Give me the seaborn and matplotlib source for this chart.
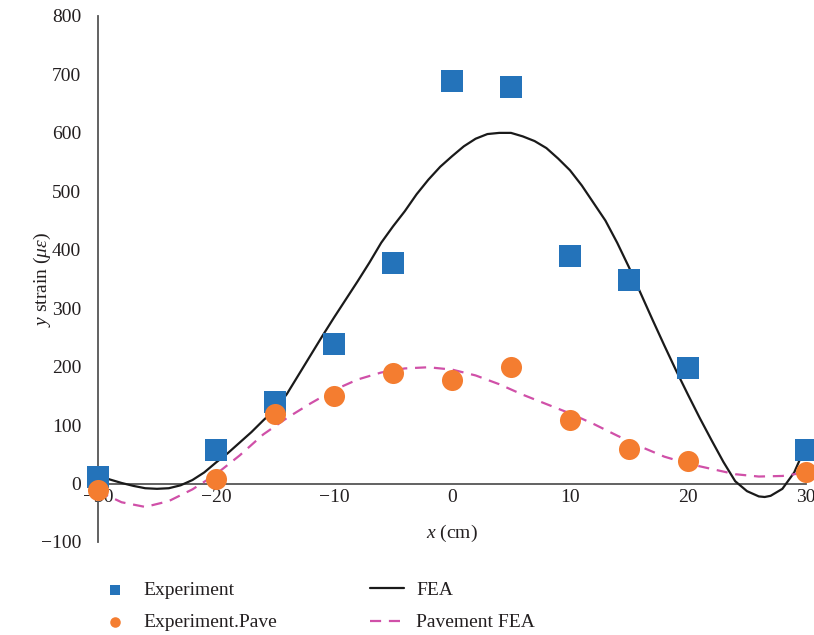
import numpy as np
import pandas as pd
import matplotlib
matplotlib.use("Agg")
import matplotlib.pyplot as plt
import seaborn as sns

# ---- data ----
exp_x = [-30, -20, -15, -10, -5, 0, 5, 10, 15, 20, 30]
exp_y = [11, 58, 139, 238, 378, 688, 679, 389, 348, 198, 58]

pave_x = [-30, -20, -15, -10, -5, 0, 5, 10, 15, 20, 30]
pave_y = [-11, 7, 119, 149, 189, 178, 199, 108, 59, 39, 19]

fea_x = [-30, -29, -28, -27, -26, -25, -24, -23, -22, -21, -20, -19, -18, -17, -16,
         -15, -14, -13, -12, -11, -10, -9, -8, -7, -6, -5, -4, -3, -2, -1, 0,
         1, 2, 3, 4, 5, 6, 7, 8, 9, 10, 11, 12, 13, 14, 15, 16, 17, 18, 19, 20,
         21, 22, 23, 24, 25, 26, 26.5, 27, 28, 29, 30]
fea_y = [14, 7, 1, -4, -8, -9, -8, -3, 6, 19, 36, 52, 70, 88, 108,
         127, 153, 186, 219, 252, 284, 315, 346, 378, 412, 440, 466, 495, 520, 542, 560,
         577, 590, 598, 600, 600, 594, 586, 574, 556, 536, 510, 480, 450, 412, 370, 325, 280,
         236, 193, 152, 112, 74, 37, 4, -13, -22, -23, -21, -9, 19, 65]

pfea_x = [-30, -28, -26, -24, -22, -20, -18, -16, -14, -12, -10, -8, -6, -4, -2, 0,
          2, 4, 6, 8, 10, 12, 14, 16, 18, 20, 22, 24, 26, 28, 30]
pfea_y = [-13, -32, -40, -30, -10, 16, 48, 84, 112, 137, 160, 178, 190, 197, 199, 195,
          185, 170, 152, 136, 120, 102, 82, 63, 46, 34, 25, 16, 12, 13, 19]

x_ticks = [-30, -20, -10, 0, 10, 20, 30]
y_ticks = [-100, 0, 100, 200, 300, 400, 500, 600, 700, 800]

sns.set_style("white")
plt.rcParams["font.family"] = ["Liberation Serif", "DejaVu Serif"]
plt.rcParams["mathtext.fontset"] = "custom"
plt.rcParams["mathtext.rm"] = "Liberation Serif"
plt.rcParams["mathtext.it"] = "Liberation Serif:italic"
plt.rcParams["axes.unicode_minus"] = True

BLUE = "#2473BA"
ORANGE = "#F47D30"
PINK = "#D050A8"
TXT = "#231F20"

fig = plt.figure(figsize=(8.14, 6.35), dpi=100)
ax = fig.add_axes([98 / 814, 1 - 542 / 635, 708 / 814, 526 / 635])

sns.lineplot(x=fea_x, y=fea_y, ax=ax, color="#1a1a1a", lw=1.6, sort=False,
             label="FEA", zorder=3)
sns.lineplot(x=pfea_x, y=pfea_y, ax=ax, color=PINK, lw=1.6, sort=False,
             label="Pavement FEA", zorder=3)
ax.lines[-1].set_dashes([5, 3.5])
for ln in ax.lines:
    ln.set_solid_joinstyle("round")
    ln.set_dash_joinstyle("round")
sns.scatterplot(x=exp_x, y=exp_y, ax=ax, marker="s", s=230, color=BLUE,
                linewidth=0, label="Experiment", zorder=5)
sns.scatterplot(x=pave_x, y=pave_y, ax=ax, marker="o", s=230, color=ORANGE,
                linewidth=0, label="Experiment.Pave", zorder=6)
for c in ax.collections:
    c.set_clip_on(False)

ax.set_xlim(-30, 30)
ax.set_ylim(-100, 800)
ax.set_xticks(x_ticks)
ax.set_yticks(y_ticks)

for s in ["top", "right"]:
    ax.spines[s].set_visible(False)
ax.spines["bottom"].set_position(("data", 0))
for s in ["left", "bottom"]:
    ax.spines[s].set_color("#555555")
    ax.spines[s].set_linewidth(1.3)
    ax.spines[s].set_zorder(2)

ax.tick_params(axis="y", direction="in", length=5, width=1.0, color="#333333",
               labelsize=14, labelcolor=TXT, pad=12)
ax.tick_params(axis="x", direction="in", length=5, width=1.0, color="#333333",
               labelsize=14, labelcolor=TXT, pad=4)

ax.set_xlabel("$x$ (cm)", fontsize=14, color=TXT)
ax.set_ylabel(r"$y$ strain ($\mu\varepsilon$)", fontsize=14, color=TXT)
ax.xaxis.set_label_coords(0.5, 0.036)
ax.yaxis.set_label_coords(-0.064, 0.5)

handles, labels = ax.get_legend_handles_labels()
order = [labels.index(n) for n in ["Experiment", "Experiment.Pave", "FEA", "Pavement FEA"]]
if ax.legend_:
    ax.legend_.remove()
leg = fig.legend([handles[i] for i in order], [labels[i] for i in order],
                 loc="upper left", bbox_to_anchor=(80 / 814, 1 - 564 / 635),
                 ncol=2, frameon=False, fontsize=14, markerscale=0.5,
                 handlelength=1.75, handletextpad=0.6, columnspacing=4.8,
                 labelspacing=0.75)
for t in leg.get_texts():
    t.set_color(TXT)

fig.savefig("out.png", dpi=100)
